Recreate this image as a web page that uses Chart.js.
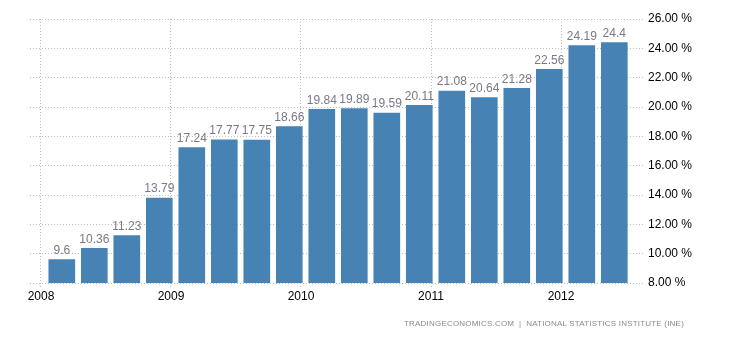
<!DOCTYPE html>
<html>
<head>
<meta charset="utf-8">
<script src="https://cdn.jsdelivr.net/npm/chart.js@4/dist/chart.umd.min.js"></script>
<style>
    body { margin: 0; background: #fff; }
    #wrap { position: relative; width: 730px; height: 340px; }
    #source {
        position: absolute; right: 46px; top: 319px;
        font: 8px "Liberation Sans", Arial, sans-serif; color: #8a8a8a; letter-spacing: 0.2px;
        white-space: nowrap;
    }
</style>
</head>
<body>
<div id="wrap">
    <canvas id="chart" width="730" height="340"></canvas>
    <div id="source">TRADINGECONOMICS.COM &nbsp;|&nbsp; NATIONAL STATISTICS INSTITUTE (INE)</div>
</div>
<script>
// quarters and values
const quarters = ['2008Q1', '2008Q2', '2008Q3', '2008Q4',
                  '2009Q1', '2009Q2', '2009Q3', '2009Q4',
                  '2010Q1', '2010Q2', '2010Q3', '2010Q4',
                  '2011Q1', '2011Q2', '2011Q3', '2011Q4',
                  '2012Q1', '2012Q2'];
const values = [9.6, 10.36, 11.23, 13.79,
                17.24, 17.77, 17.75, 18.66,
                19.84, 19.89, 19.59, 20.11,
                21.08, 20.64, 21.28, 22.56,
                24.19, 24.4];
const yearTicks = [2008, 2009, 2010, 2011, 2012];
const yTicks = [8, 10, 12, 14, 16, 18, 20, 22, 24, 26];

// position of a quarter on the year axis
function quarterPos(q) {
    return Number(q.slice(0, 4)) + (Number(q.slice(-1)) - 1) / 4 + 0.16;
}

// labels above the bars
const valueLabels = {
    id: 'valueLabels',
    afterDatasetsDraw(chart) {
        const ctx = chart.ctx;
        const meta = chart.getDatasetMeta(0);
        ctx.save();
        ctx.font = '12px "Liberation Sans", Arial, sans-serif';
        ctx.fillStyle = '#7a7888';
        ctx.textAlign = 'center';
        ctx.textBaseline = 'bottom';
        meta.data.forEach((bar, i) => {
            ctx.fillText(String(values[i]), bar.x, bar.y - 3);
        });
        ctx.restore();
    }
};

const ctx = document.getElementById('chart').getContext('2d');
const chart = new Chart(ctx, {
    type: 'bar',
    data: {
        datasets: [{
            data: quarters.map((q, i) => ({ x: quarterPos(q), y: values[i] })),
            backgroundColor: '#4682b4',
            borderWidth: 0,
            barThickness: 26
        }]
    },
    options: {
        responsive: false,
        animation: false,
        layout: { padding: { left: 30, top: 19, right: 0, bottom: 0 } },
        plugins: { legend: { display: false }, tooltip: { enabled: false } },
        scales: {
            x: {
                type: 'linear',
                offset: false,
                min: 2008 - 11 / 130,
                max: 2008 + 604 / 130,
                afterBuildTicks: s => { s.ticks = yearTicks.map(v => ({ value: v })); },
                afterFit: s => { s.height = 57; },
                ticks: {
                    callback: v => String(v),
                    color: '#000',
                    font: { family: '"Liberation Sans", Arial, sans-serif', size: 12 },
                    padding: 2,
                    maxRotation: 0,
                    autoSkip: false
                },
                grid: {
                    offset: false,
                    color: '#bdbdbd',
                    tickLength: 4,
                    tickColor: '#bdbdbd',
                    tickBorderDash: [1, 2]
                },
                border: { display: false, dash: [1, 2] }
            },
            y: {
                position: 'right',
                min: 8,
                max: 26,
                afterBuildTicks: s => { s.ticks = yTicks.map(v => ({ value: v })); },
                afterFit: s => { s.width = 85; },
                ticks: {
                    callback: v => v.toFixed(2) + ' %',
                    color: '#000',
                    font: { family: '"Liberation Sans", Arial, sans-serif', size: 12 },
                    padding: 3
                },
                grid: { color: '#bdbdbd', drawTicks: false },
                border: { display: false, dash: [1, 2] }
            }
        }
    },
    plugins: [valueLabels]
});
</script>
</body>
</html>
